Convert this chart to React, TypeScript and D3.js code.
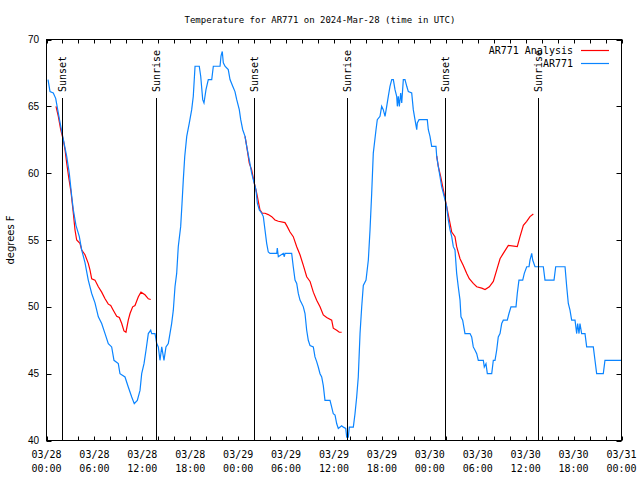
import React from "react";
import * as d3 from "d3";

const W = 640;
const H = 480;

const START = Date.UTC(2024, 2, 28, 0, 0);
const END = Date.UTC(2024, 2, 31, 0, 0);

// AR771 observations: hours since 2024-03-28 00:00 UTC, temperature (°F)
const blueHours = [
  0.19, 0.44, 0.85, 1.15, 1.69, 2.03, 2.53, 2.85, 2.94, 3.16, 3.36, 3.69, 4.11, 4.41, 4.82, 5.23, 5.66, 6.07, 6.49, 6.91,
  7.33, 7.74, 8.16, 8.45, 8.99, 9.2, 9.83, 10.24, 10.67, 10.99, 11.37, 11.71, 11.92, 12.21, 12.46, 12.75, 13.05, 13.17,
  13.59, 13.8, 14.0, 14.21, 14.43, 14.71, 14.96, 15.25, 15.46, 15.67, 15.88, 16.09, 16.3, 16.5, 16.8, 16.97, 17.13, 17.31,
  17.56, 17.88, 18.18, 18.38, 18.6, 19.13, 19.31, 19.56, 19.72, 19.97, 20.26, 20.69, 20.89, 21.73, 21.85, 22.01, 22.14,
  22.35, 22.76, 22.98, 23.32, 23.6, 23.82, 24.14, 24.32, 24.57, 24.86, 25.07, 25.39, 25.69, 25.9, 26.23, 26.4, 26.65,
  26.95, 27.15, 27.36, 27.57, 27.77, 27.99, 28.83, 28.9, 29.03, 29.65, 29.78, 29.86, 30.7, 30.9, 31.12, 31.33, 31.53,
  31.74, 31.96, 32.16, 32.37, 32.58, 32.78, 33.0, 33.41, 33.62, 33.83, 34.03, 34.25, 34.46, 34.66, 34.87, 35.5, 35.71,
  35.91, 36.13, 36.34, 36.54, 36.96, 37.17, 37.47, 37.59, 37.79, 37.92, 38.42, 38.63, 38.84, 39.04, 39.26, 39.47, 39.67,
  40.01, 40.3, 40.51, 40.72, 40.92, 41.26, 41.42, 41.76, 41.97, 42.17, 42.39, 42.6, 42.8, 43.01, 43.23, 43.43, 43.64,
  43.85, 43.93, 44.05, 44.18, 44.35, 44.48, 44.68, 44.89, 45.11, 45.31, 45.73, 45.93, 46.14, 46.36, 46.43, 46.65, 47.68,
  47.81, 48.02, 48.23, 48.77, 48.86, 49.06, 49.27, 49.48, 49.69, 49.9, 50.11, 50.31, 50.53, 50.74, 50.94, 51.15, 51.36,
  51.56, 51.78, 51.9, 52.11, 52.4, 53.03, 53.24, 53.44, 53.66, 53.87, 54.07, 54.7, 54.82, 55.03, 55.2, 55.75, 55.95,
  56.16, 56.37, 56.57, 56.79, 57.0, 57.2, 57.7, 57.91, 58.16, 58.79, 58.95, 59.16, 59.63, 59.83, 60.13, 60.42, 60.54,
  60.76, 60.88, 61.17, 62.21, 62.42, 63.55, 63.76, 64.93, 65.14, 65.34, 65.55, 65.76, 66.18, 66.39, 66.51, 66.68, 66.8,
  67.01, 67.43, 67.64, 68.47, 68.68, 68.89, 69.72, 69.93, 72.0,
];
const blueTemps = [
  67, 66.1, 66, 65.6, 63.8, 62.75, 61.25, 60, 59.5, 58.25, 57.25, 56.1, 55.25, 54.25, 53.3, 52, 51, 50.3, 49.25, 48.75,
  48, 47.25, 47, 46, 45.75, 45, 44.75, 44, 43.25, 42.75, 43, 43.75, 45, 45.75, 46.75, 48, 48.25, 48,
  48, 47.25, 47, 46, 47, 46, 47, 47.25, 48, 48.75, 49.75, 51.5, 52.5, 54.5, 56, 57.75, 59.5, 61.25,
  62.75, 63.75, 64.75, 65.75, 68, 68, 67.25, 65.5, 65.25, 66.25, 67, 67, 68, 68, 68.75, 69.1, 68.25,
  68, 67.75, 67, 66.5, 66.1, 65.5, 64.75, 64, 63.25, 62.75, 62, 61, 60, 59.5, 58.75, 57.75, 57.25,
  57, 56.75, 55.75, 54.75, 54.1, 54, 54, 54.4, 53.75, 54, 53.75, 54, 54, 53, 52, 51.75, 51,
  50.5, 50.25, 50, 49.5, 48.25, 47.5, 47.1, 47, 46.25, 45.9, 45.5, 45, 44.75, 44.1, 43, 43, 42.5,
  42, 41.9, 41.25, 40.9, 41.1, 41, 40.9, 40.25, 40.25, 41, 41, 42, 43.25, 44.75, 48, 50, 51.6,
  52, 53.5, 55.75, 58.5, 61.5, 63.25, 64, 64.25, 65, 64.75, 64.25, 65, 65.75, 66.5, 67, 67, 66.25,
  65.75, 65, 65.75, 65, 66, 65.25, 67, 67, 66.5, 66.1, 66, 64.75, 64, 63.25, 63.75, 64, 64,
  63.25, 62.75, 62, 62, 61.25, 60.5, 59.75, 59, 58.5, 58, 57.5, 56.5, 55.75, 55.25, 54.5, 54.25, 52.5,
  51.5, 50.5, 49.25, 49, 48, 48, 47.75, 47, 46.75, 46.5, 46, 46, 45.5, 45.75, 45, 45, 46,
  46, 46.75, 47.75, 48, 48.75, 49, 49, 49.5, 50, 50, 51, 52, 52, 52.5, 53, 53, 53.5,
  54, 53.5, 53, 53, 52, 52, 53, 53, 51.5, 50.25, 49.75, 49, 49, 48, 48.75, 48, 48.75,
  48, 48, 47, 47, 46, 45, 45, 46, 46,
];

// AR771 Analysis: three evening segments (null separates segments)
const analysisHours = [
  1.19, 1.48, 1.78, 2.1, 2.32, 2.53, 2.8, 3.07, 3.36, 3.57, 3.78, 4.19, 4.41, 4.82, 5.23, 5.45, 5.66, 6.07, 6.49, 6.91,
  7.33, 7.74, 8.04, 8.36, 8.79, 9.12, 9.42, 9.7, 9.95, 10.24, 10.46, 10.79, 11.08, 11.5, 11.83, 12.33, 12.75, 13.05,
  null,
  24.86, 25.07, 25.39, 25.69, 26.02, 26.32, 26.73, 27.02, 27.36, 27.77, 28.2, 28.61, 29.03, 29.86, 30.15, 30.49, 30.9,
  31.33, 31.74, 32.16, 32.58, 33.0, 33.41, 33.83, 34.25, 34.66, 35.08, 35.71, 35.91, 36.34, 36.66, 36.96,
  null,
  48.86, 49.06, 49.36, 49.69, 50.11, 50.44, 50.74, 51.15, 51.36, 51.78, 52.19, 52.62, 52.94, 53.44, 53.87, 54.5, 54.91,
  55.45, 55.95, 56.37, 56.79, 57.2, 57.83, 58.95, 59.29, 59.71, 60.13, 60.54, 60.96,
];
const analysisTemps = [
  65, 64.25, 63.25, 62.5, 61.75, 60.75, 59.6, 58.6, 57, 55.75, 55, 54.75, 54.25, 53.9, 53.25, 52.75, 52.1, 52, 51.5, 51.1,
  50.6, 50.2, 50.1, 49.75, 49.3, 49.2, 48.75, 48.2, 48.1, 49, 49.5, 50, 50.1, 50.75, 51.1, 50.9, 50.6, 50.55,
  null,
  62.75, 62, 60.75, 60.25, 59.25, 58.5, 57.25, 57, 57, 56.9, 56.75, 56.5, 56.4, 56.3, 56, 55.6, 55.25,
  54.5, 53.9, 53.1, 52.25, 51.9, 51.1, 50.5, 50, 49.4, 49.2, 49, 48.4, 48.25, 48.1, 48.1,
  null,
  61.3, 60.5, 59.75, 58.75, 57.5, 56.5, 55.6, 55.25, 54.5, 53.6, 53.1, 52.5, 52.1, 51.75, 51.5, 51.4, 51.3,
  51.5, 51.9, 52.75, 53.6, 54, 54.6, 54.5, 55.25, 56.1, 56.4, 56.75, 56.95,
];

const sunsetHours = [1.98, 26.02, 49.94];
const sunriseHours = [13.77, 37.67, 61.58];

const yTicks = [40, 45, 50, 55, 60, 65, 70];

const seriesNames = ["AR771 Analysis", "AR771"];
const seriesColors = ["#ff0000", "#0a84ff"];

const toDate = (h: number) => new Date(START + h * 3600 * 1000);

export default function App() {
  const x = d3.scaleUtc().domain([new Date(START), new Date(END)]).range([46.5, 621.5]);
  const y = d3.scaleLinear().domain([40, 70]).range([440.5, 39.5]);

  const blueData = blueHours.map((h, i) => ({ t: toDate(h), v: blueTemps[i] }));
  const redData = analysisHours.map((h, i) => ({
    t: h == null ? null : toDate(h),
    v: analysisTemps[i],
  }));

  const blueLine = d3
    .line<{ t: Date; v: number }>()
    .x((d) => x(d.t))
    .y((d) => y(d.v))
    .curve(d3.curveLinear);

  const redLine = d3
    .line<{ t: Date | null; v: number | null }>()
    .defined((d) => d.t != null && d.v != null)
    .x((d) => x(d.t as Date))
    .y((d) => y(d.v as number));

  const minorTicks = d3.utcHour.every(2)!.range(new Date(START), new Date(END + 1));
  const majorTicks = d3.utcHour.every(6)!.range(new Date(START), new Date(END + 1));
  const fmtDate = d3.utcFormat("%m/%d");
  const fmtTime = d3.utcFormat("%H:%M");

  const mono = "'DejaVu Sans Mono', monospace";
  const sans = "'Liberation Sans', Arial, sans-serif";

  const [x0, x1] = x.range();
  const [yb, yt] = y.range();

  const sunTop = 98;

  return (
    <svg
      width={W}
      height={H}
      style={{ position: "absolute", left: 0, top: 0, background: "#fff" }}
      xmlns="http://www.w3.org/2000/svg"
    >
      <rect x={0} y={0} width={W} height={H} fill="#fff" />
      {/* title */}
      <text x={320} y={23} textAnchor="middle" fontFamily={mono} fontSize={9} fill="#000">
        Temperature for AR771 on 2024-Mar-28 (time in UTC)
      </text>
      {/* y axis label */}
      <text
        transform={`translate(14,240) rotate(-90)`}
        textAnchor="middle"
        fontFamily="'DejaVu Sans', sans-serif"
        fontSize={10}
        fill="#000"
      >
        degrees F
      </text>

      {/* y ticks */}
      {yTicks.map((v) => (
        <g key={"y" + v}>
          <line x1={x0} x2={x0 + 5} y1={Math.round(y(v)) + 0.5} y2={Math.round(y(v)) + 0.5} stroke="#000" />
          <line x1={x1 - 5} x2={x1} y1={Math.round(y(v)) + 0.5} y2={Math.round(y(v)) + 0.5} stroke="#000" />
          <text x={39} y={y(v)} dy="0.35em" textAnchor="end" fontFamily={sans} fontSize={10} fill="#000">
            {v}
          </text>
        </g>
      ))}

      {/* x ticks */}
      {minorTicks.map((t) => {
        const px = Math.round(x(t)) + 0.5;
        return (
          <g key={"xt" + t.getTime()}>
            <line x1={px} x2={px} y1={yb} y2={yb - 4} stroke="#000" />
            <line x1={px} x2={px} y1={yt} y2={yt + 4} stroke="#000" />
          </g>
        );
      })}
      {majorTicks.map((t) => (
        <g key={"xl" + t.getTime()}>
          <text x={x(t)} y={458} textAnchor="middle" fontFamily={mono} fontSize={10} fill="#000">
            {fmtDate(t)}
          </text>
          <text x={x(t)} y={472} textAnchor="middle" fontFamily={mono} fontSize={10} fill="#000">
            {fmtTime(t)}
          </text>
        </g>
      ))}

      {/* data */}
      <path d={redLine(redData) || ""} fill="none" stroke={seriesColors[0]} strokeWidth={1.2} />
      <path d={blueLine(blueData) || ""} fill="none" stroke={seriesColors[1]} strokeWidth={1.2} />

      {/* sunset / sunrise markers */}
      {sunsetHours.map((h) => {
        const px = Math.round(x(toDate(h))) + 0.5;
        return (
          <g key={"ss" + h}>
            <line x1={px} x2={px} y1={sunTop} y2={yb} stroke="#000" />
            <text
              transform={`translate(${px},92) rotate(-90)`}
              dy="0.35em"
              textAnchor="start"
              fontFamily={mono}
              fontSize={10}
              fill="#000"
            >
              Sunset
            </text>
          </g>
        );
      })}
      {sunriseHours.map((h) => {
        const px = Math.round(x(toDate(h))) + 0.5;
        return (
          <g key={"sr" + h}>
            <line x1={px} x2={px} y1={sunTop} y2={yb} stroke="#000" />
            <text
              transform={`translate(${px},92) rotate(-90)`}
              dy="0.35em"
              textAnchor="start"
              fontFamily={mono}
              fontSize={10}
              fill="#000"
            >
              Sunrise
            </text>
          </g>
        );
      })}

      {/* legend */}
      {seriesNames.map((name, i) => {
        const ly = 50 + i * 13;
        return (
          <g key={name}>
            <text x={573} y={ly} dy="0.35em" textAnchor="end" fontFamily={mono} fontSize={10} fill="#000">
              {name}
            </text>
            <line x1={581} x2={609} y1={ly + 0.5} y2={ly + 0.5} stroke={seriesColors[i]} strokeWidth={1.2} />
          </g>
        );
      })}

      {/* border */}
      <rect x={x0} y={yt} width={x1 - x0} height={yb - yt} fill="none" stroke="#000" />
    </svg>
  );
}
